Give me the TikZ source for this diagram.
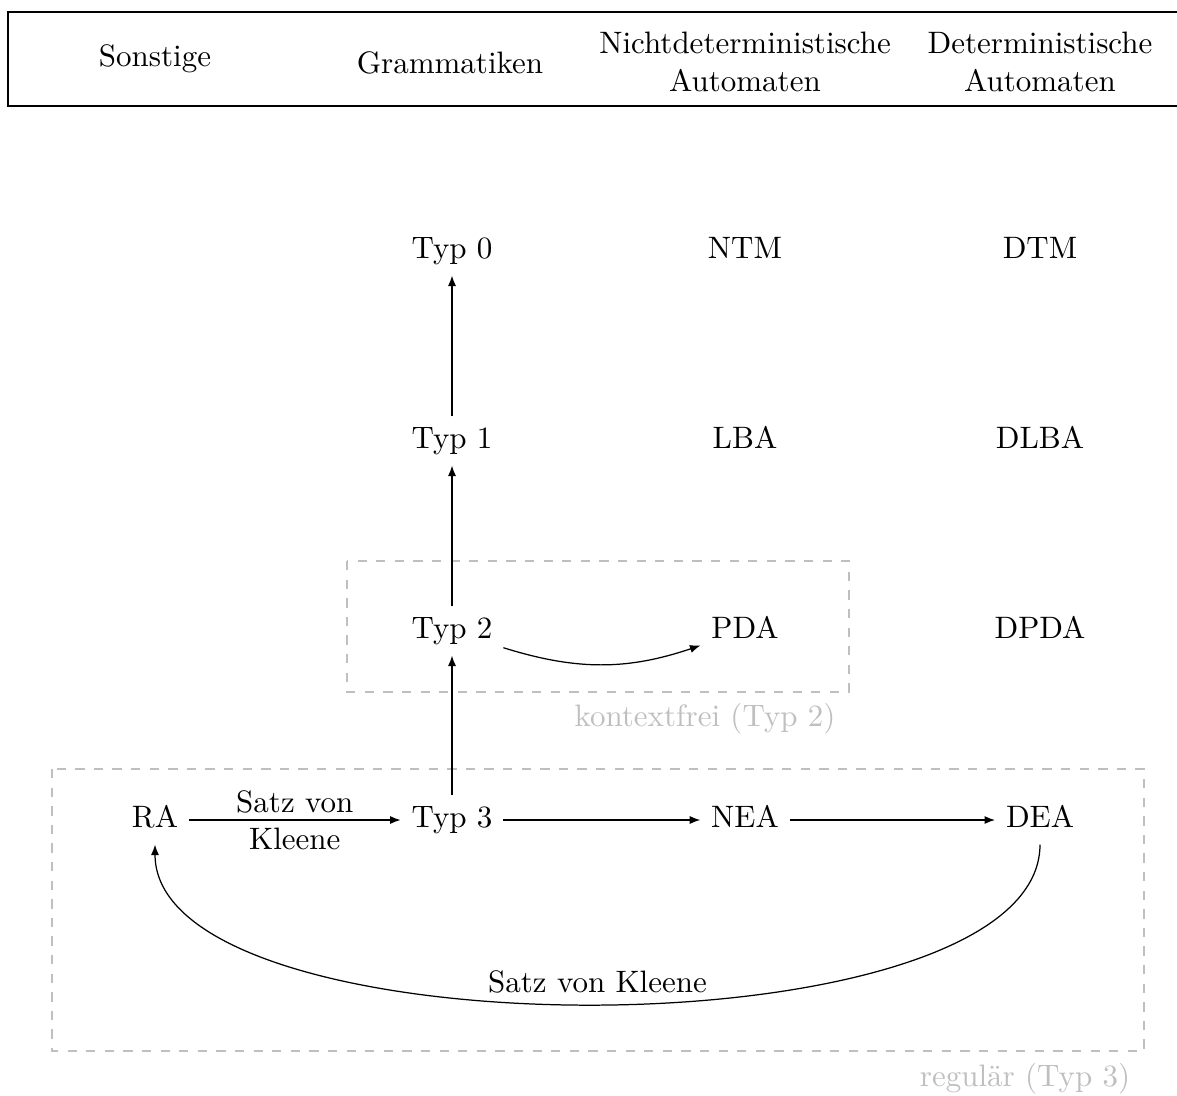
\documentclass[tikz,border=0pt]{standalone}
\usetikzlibrary{arrows.meta}
\begin{document}
\begin{tikzpicture}[x=0.3226pt,y=-0.3226pt,
  state/.style={inner sep=3.33pt, text height=6.83pt, text depth=1.94pt},
  head/.style={align=center, inner sep=2pt},
  arr/.style={-{Latex[length=3.4pt,width=2.6pt]}},
  region/.style={draw=black!25, dashed},
  regionlabel/.style={text=black!25}]
\useasboundingbox (0,0) rectangle (1177,1095);
% header
\draw (8,12) rectangle (1300,106);
\node[head] (hs) at (155,59) {Sonstige};
\node[head] (hg) at (450,63) {Grammatiken};
\node[head] (hn) at (745,62) {Nichtdeterministische\\Automaten};
\node[head] (hd) at (1040,62) {Deterministische\\Automaten};
% regions
\draw[region] (347,561) rectangle (849,692);
\node[regionlabel] (lk) at (705,719) {kontextfrei (Typ 2)};
\draw[region] (52,769) rectangle (1144,1051);
\node[regionlabel] (lr) at (1025,1079) {regulär (Typ 3)};
% states
\node[state] (t0) at (452,251) {Typ 0};
\node[state] (ntm) at (745,251) {NTM};
\node[state] (dtm) at (1040,251) {DTM};
\node[state] (t1) at (452,441) {Typ 1};
\node[state] (lba) at (745,441) {LBA};
\node[state] (dlba) at (1040,441) {DLBA};
\node[state] (t2) at (452,631) {Typ 2};
\node[state] (pda) at (745,631) {PDA};
\node[state] (dpda) at (1040,631) {DPDA};
\node[state] (ra) at (155,820) {RA};
\node[state] (t3) at (452,820) {Typ 3};
\node[state] (nea) at (745,820) {NEA};
\node[state] (dea) at (1040,820) {DEA};
% connectors
\draw[arr] (t1) -- (t0);
\draw[arr] (t2) -- (t1);
\draw[arr] (t3) -- (t2);
\draw[arr] (t2) to[bend right=18] (pda);
\draw[arr] (ra) -- node[midway, align=center] {Satz von\\Kleene} (t3);
\draw[arr] (t3) -- (nea);
\draw[arr] (nea) -- (dea);
\draw[arr] (dea.south) .. controls (1040,1057) and (155,1057) .. node[pos=0.5, above] {Satz von Kleene} (ra.south);
\end{tikzpicture}
\end{document}
